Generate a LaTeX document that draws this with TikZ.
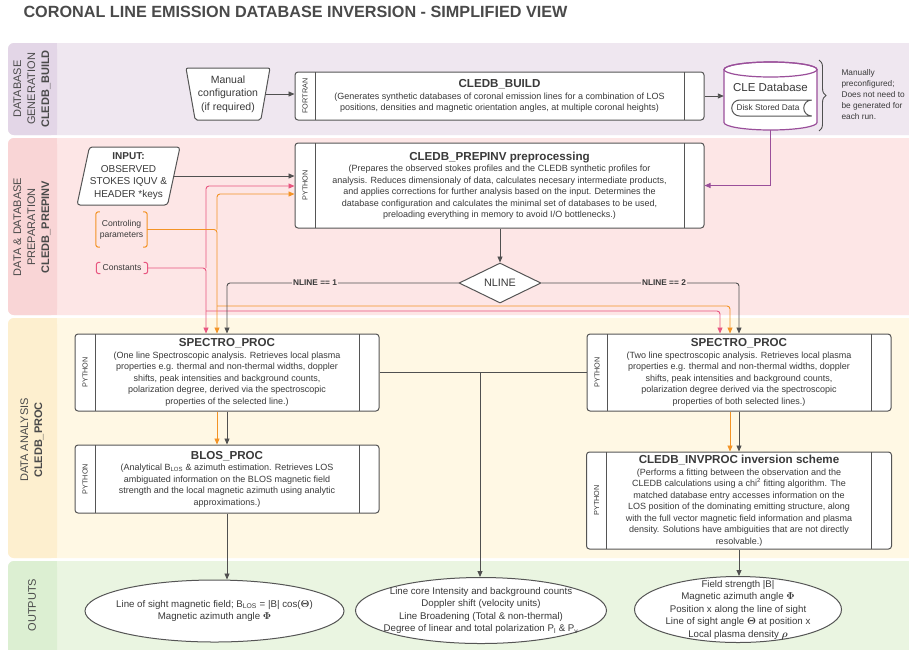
\documentclass[tikz,border=0pt]{standalone}
\usepackage[no-math]{fontspec}
\setmainfont{Liberation Sans}
\usepackage{amsmath}
\usetikzlibrary{arrows.meta,shapes.geometric,shapes.misc,decorations.pathreplacing}

\definecolor{titlegray}{HTML}{4A4A4A}
\definecolor{textgray}{HTML}{3A3A3A}
\definecolor{linegray}{HTML}{555555}
\definecolor{arrowgray}{HTML}{505050}
\definecolor{pinkln}{HTML}{E8557F}
\definecolor{orangeln}{HTML}{F39325}
\definecolor{purpleln}{HTML}{9A4F9A}
\definecolor{buildbg}{HTML}{EFE7F0}
\definecolor{buildside}{HTML}{E3D6E7}
\definecolor{prepbg}{HTML}{FDE6E6}
\definecolor{prepside}{HTML}{F9D5D6}
\definecolor{procbg}{HTML}{FFF8E4}
\definecolor{procside}{HTML}{FDEFCF}
\definecolor{outbg}{HTML}{EAF5E1}
\definecolor{outside}{HTML}{DCEFD2}

\newcommand\bodyfont{\fontsize{9}{11.5}\selectfont}
\newcommand\headfont{\fontsize{11.6}{13.5}\selectfont\bfseries}

\tikzset{
  procbox/.style={draw=linegray, line width=1pt, fill=white, rounded corners=3pt,
    align=center, inner sep=2pt, font=\bodyfont, text=textgray,
    path picture={
      \draw[linegray, line width=1pt] ([xshift=20pt]path picture bounding box.north west) -- ([xshift=20pt]path picture bounding box.south west);
      \draw[linegray, line width=1pt] ([xshift=-20pt]path picture bounding box.north east) -- ([xshift=-20pt]path picture bounding box.south east);
      \node[rotate=90, font=\fontsize{7.3}{9}\selectfont, text=textgray] at ([xshift=10pt]path picture bounding box.west) {#1};
    }},
  outbox/.style={ellipse, draw=linegray, line width=1pt, fill=white, align=center,
    inner sep=0pt, font=\fontsize{9.7}{12.5}\selectfont, text=textgray},
  bandlbl/.style={rotate=90, align=center, font=\fontsize{11}{14}\selectfont, text=titlegray},
  grln/.style={draw=arrowgray, line width=0.9pt},
  pkln/.style={draw=pinkln, line width=0.9pt},
  orln/.style={draw=orangeln, line width=0.9pt},
  brkt/.style={minimum width=51pt, inner sep=0pt, align=center, font=\fontsize{8.6}{11}\selectfont, text=textgray},
  nlbl/.style={fill=prepbg, inner sep=1pt, font=\fontsize{8.3}{10}\selectfont\bfseries, text=textgray}
}

\begin{document}
\begin{tikzpicture}[x=1pt, y=-1pt, >={Triangle[length=6pt,width=5pt]}]
  \useasboundingbox (0,0) rectangle (909,649);
  \fill[white] (0,0) rectangle (909,649);

  % bands
  \foreach \ya/\yb/\body/\side in {43/135/buildbg/buildside, 138/315/prepbg/prepside,
      318/558/procbg/procside, 561/670/outbg/outside}{
    \fill[\body, rounded corners=6pt] (8,\ya) rectangle (940,\yb);
    \fill[\side, rounded corners=6pt] (8,\ya) rectangle (57,\yb);
    \fill[\side] (50,\ya) rectangle (57,\yb);
  }

  \node[anchor=west, font=\fontsize{16.2}{18}\selectfont\bfseries, text=titlegray] (title) at (20,12)
    {CORONAL LINE EMISSION DATABASE INVERSION - SIMPLIFIED VIEW};

  \node[bandlbl] (lb1) at (32,89) {DATABASE\\GENERATION\\\textbf{CLEDB\_BUILD}};
  \node[bandlbl] (lb2) at (32,227) {DATA \& DATABASE\\PREPARATION\\\textbf{CLEDB\_PREPINV}};
  \node[bandlbl] (lb3) at (32,440) {DATA ANALYSIS\\\textbf{CLEDB\_PROC}};
  \node[bandlbl] (lb4) at (32,605) {OUTPUTS};

  % database generation
  \node[trapezium, trapezium angle=76, shape border rotate=180, trapezium stretches body,
    draw=linegray, line width=1pt, fill=white, rounded corners=2pt, minimum width=84pt,
    minimum height=52pt, inner sep=0pt, align=center, text=textgray,
    font=\fontsize{10.5}{13.5}\selectfont] (man) at (228,94) {Manual\\configuration\\(if required)};
  \node[procbox=FORTRAN, minimum width=409pt, minimum height=48pt] (build) at (499.5,96)
    {{\headfont CLEDB\_BUILD}\\(Generates synthetic databases of coronal emission lines for a combination of LOS\\positions, densities and magnetic orientation angles, at multiple coronal heights)};

  \node[minimum width=93pt, minimum height=68pt, inner sep=0pt] (db) at (770.5,96) {};
  \draw[draw=purpleln, line width=1.2pt, fill=white] (724,69.5) -- (724,122.5)
    arc[start angle=180, end angle=360, x radius=46.5pt, y radius=7.5pt] -- (817,69.5)
    arc[start angle=0, end angle=180, x radius=46.5pt, y radius=7.5pt] -- cycle;
  \draw[draw=purpleln, line width=1.2pt] (770.5,69.5) ellipse[x radius=46.5pt, y radius=7.5pt];
  \node[font=\fontsize{11.5}{13}\selectfont, text=textgray] (dbname) at (770.5,87) {CLE Database};
  \node[rounded rectangle, rounded rectangle right arc=concave, draw=linegray, line width=1pt,
    fill=white, minimum width=82pt, minimum height=16pt, inner sep=1pt,
    font=\fontsize{8.3}{10}\selectfont, text=textgray] (disk) at (768,108) {Disk Stored Data};
  \draw[decorate, decoration={brace, amplitude=7pt}, draw=arrowgray, line width=0.9pt] (819,60) -- (819,131);
  \node[anchor=west, align=left, font=\fontsize{8.3}{11}\selectfont, text=textgray] (note) at (838,95)
    {Manually\\preconfigured;\\Does not need to\\be generated for\\each run.};

  % preparation
  \node[trapezium, trapezium left angle=75, trapezium right angle=105, trapezium stretches body,
    draw=linegray, line width=1pt, fill=white, rounded corners=3pt, minimum width=103pt,
    minimum height=58pt, inner sep=0pt, align=center, text=textgray,
    font=\fontsize{10}{12.5}\selectfont] (inp) at (128.5,176) {\textbf{INPUT:}\\OBSERVED\\STOKES IQUV \&\\HEADER *keys};
  \node[brkt, minimum height=35pt] (cp) at (121.5,229.5) {Controling\\parameters};
  \node[brkt, minimum height=11pt] (const) at (122,268) {Constants};
  \foreach \n/\c in {cp/orangeln, const/pinkln}{
    \draw[\c, line width=1pt, rounded corners=2.5pt] ([xshift=4pt]\n.north west) -- (\n.north west)
      -- (\n.south west) -- ([xshift=4pt]\n.south west);
    \draw[\c, line width=1pt, rounded corners=2.5pt] ([xshift=-4pt]\n.north east) -- (\n.north east)
      -- (\n.south east) -- ([xshift=-4pt]\n.south east);
  }
  \node[procbox=PYTHON, minimum width=409pt, minimum height=85pt] (prep) at (499.5,185.5)
    {{\headfont CLEDB\_PREPINV preprocessing}\\(Prepares the observed stokes profiles and the CLEDB synthetic profiles for\\analysis. Reduces dimensionaly of data, calculates necesary intermediate products,\\and applies corrections for further analysis based on the input. Determines the\\database configuration and calculates the minimal set of databases to be used,\\preloading everything in memory to avoid I/O bottlenecks.)};
  \node[diamond, draw=linegray, line width=1pt, fill=white, minimum width=82pt, minimum height=40pt,
    inner sep=0pt, font=\fontsize{10.8}{13}\selectfont, text=textgray] (nl) at (500,283) {NLINE};

  % analysis
  \node[procbox=PYTHON, minimum width=304pt, minimum height=77pt] (ls) at (227,372.5)
    {{\headfont SPECTRO\_PROC}\\(One line Spectroscopic analysis. Retrieves local plasma\\properties e.g. thermal and non-thermal widths, doppler\\shifts, peak intensities and background counts,\\polarization degree, derived via the spectroscopic\\properties of the selected line.)};
  \node[procbox=PYTHON, minimum width=304pt, minimum height=77pt] (rs) at (739,372.5)
    {{\headfont SPECTRO\_PROC}\\(Two line spectroscopic analysis. Retrieves local plasma\\properties e.g. thermal and non-thermal widths, doppler\\shifts, peak intensities and background counts,\\polarization degree derived via the spectroscopic\\properties of both selected lines.)};
  \node[procbox=PYTHON, minimum width=304pt, minimum height=68pt] (blos) at (227,479)
    {{\headfont BLOS\_PROC}\\(Analytical B\textsubscript{LOS} \& azimuth estimation. Retrieves LOS\\ambiguated information on the BLOS magnetic field\\strength and the local magnetic azimuth using analytic\\approximations.)};
  \node[procbox=PYTHON, minimum width=305pt, minimum height=97pt] (inv) at (739,500.5)
    {{\headfont CLEDB\_INVPROC inversion scheme}\\(Performs a fitting between the observation and the\\CLEDB calculations using a chi\textsuperscript{2} fitting algorithm. The\\matched database entry accesses information on the\\LOS position of the dominating emitting structure, along\\with the full vector magnetic field information and plasma\\density. Solutions have ambiguities that are not directly\\resolvable.)};

  % outputs
  \node[outbox, inner xsep=-12pt, minimum width=259pt, minimum height=62pt] (out1) at (214.5,611)
    {Line of sight magnetic field; B\textsubscript{LOS} = |B| cos($\mathbf{\Theta}$)\\Magnetic azimuth angle $\mathbf{\Phi}$};
  \node[outbox, inner xsep=-17pt, inner ysep=-2pt, minimum width=251pt, minimum height=66pt] (out2) at (481,610.5)
    {Line core Intensity and background counts\\Doppler shift (velocity units)\\Line Broadening (Total \& non-thermal)\\Degree of linear and total polarization P\textsubscript{l} \& P\textsubscript{v}};
  \node[outbox, inner xsep=-7pt, inner ysep=-8pt, minimum width=207pt, minimum height=66pt] (out3) at (738,609.5)
    {Field strength |B|\\Magnetic azimuth angle $\mathbf{\Phi}$\\Position x along the line of sight\\Line of sight angle $\mathbf{\Theta}$ at position x\\Local plasma density $\boldsymbol{\rho}$};

  % helper points
  \coordinate (ypk) at (0,186);
  \coordinate (yor) at (0,194);
  \coordinate (pk) at (206,268);
  \coordinate (pkb) at (206,311);
  \coordinate (og) at (217,229.5);
  \coordinate (ogb) at (217,306);
  \coordinate (mj) at (480,372.5);

  % connectors
  \draw[grln, ->] (man.east) -- (man.east -| build.west);
  \draw[grln, ->] (build.east) -- (db.west);
  \draw[purpleln, line width=0.9pt, ->] (db.south) |- (prep.east);

  \draw[grln, ->] (inp.east) -- (prep.west |- inp.east);
  \draw[pkln, ->, rounded corners=3pt] (const.east) -| ([xshift=-21pt]ls.north);
  \draw[pkln, ->, rounded corners=3pt] (pk) |- (prep.west |- ypk);
  \draw[pkln, ->, rounded corners=3pt] (pkb) -| ([xshift=-19pt]rs.north);
  \draw[orln, ->, rounded corners=3pt] (cp.east) -| ([xshift=-10pt]ls.north);
  \draw[orln, ->, rounded corners=3pt] (og) |- (prep.west |- yor);
  \draw[orln, ->, rounded corners=3pt] (ogb) -| ([xshift=-9pt]rs.north);

  \draw[grln, ->] (prep.south -| nl.north) -- (nl.north);
  \draw[grln, ->, rounded corners=3pt] (nl.west) -| (ls.north) node[nlbl, pos=.31] {NLINE == 1};
  \draw[grln, ->, rounded corners=3pt] (nl.east) -| (rs.north) node[nlbl, pos=.31] {NLINE == 2};

  \draw[orln, ->] ([xshift=-10pt]ls.south) -- ([xshift=-10pt]blos.north);
  \draw[grln, ->] (ls.south) -- (blos.north);
  \draw[grln] (ls.east) -- (rs.west);
  \draw[grln, ->] (mj) -- (mj |- out2.north);
  \draw[orln, ->] ([xshift=-9pt]rs.south) -- ([xshift=-9pt]inv.north);
  \draw[grln, ->] (rs.south) -- (inv.north);

  \draw[grln, ->] (blos.south) -- (out1.north -| blos.south);
  \draw[grln, ->] (inv.south) -- (inv.south |- out3.north);
\end{tikzpicture}
\end{document}
